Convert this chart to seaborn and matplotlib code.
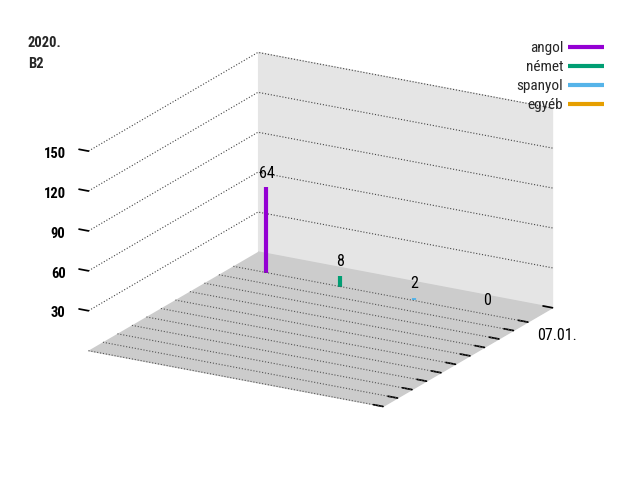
import matplotlib
matplotlib.use('Agg')
import matplotlib.pyplot as plt
import seaborn as sns
import numpy as np

categories = ['angol', 'német', 'spanyol', 'egyéb']
values = [64, 8, 2, 0]
colors = ['#9400D3', '#009E73', '#56B4E9', '#E69F00']
date_ticks = [0, 1, 2, 3, 4, 5, 6, 7, 8, 9, 10, 11.7]
date_labels = ['', '', '', '', '', '', '', '', '', '', '07.01.', '']
bar_date = 10
z_ticks = [30, 60, 90, 120, 150]
z_labels = ['30', '60', '90', '120', '150']
title_text = '2020.\nB2'

sns.set_theme(style='ticks')
plt.rcParams['font.family'] = ['Roboto Condensed', 'DejaVu Sans']
plt.rcParams['font.stretch'] = 'condensed'
plt.rcParams['grid.linestyle'] = ':'
plt.rcParams['grid.color'] = '#444444'
plt.rcParams['grid.linewidth'] = 0.8
plt.rcParams['xtick.color'] = 'black'
plt.rcParams['ytick.color'] = 'black'

fig = plt.figure(figsize=(6.4, 4.8), dpi=100)
ax = fig.add_axes([-0.0094, 0.0085, 1, 1], projection='3d', proj_type='ortho')
ax.view_init(elev=19.4, azim=-60.3)
ax.set_box_aspect((1, 1.009, 0.624), zoom=1.064)
ax.set_xlim(-0.45, 3.55)
ax.set_ylim(0, 11.7)
ax.set_zlim(0, 150)

xs = np.arange(len(categories))
label_pad = 10.6
for x, v, c, name in zip(xs, values, colors, categories):
    ax.plot([x, x], [bar_date, bar_date], [0, v], color=c, lw=3.0,
            solid_capstyle='butt', label=name)
    ax.text(x, bar_date, v + label_pad, str(v), ha='center', va='center',
            fontsize=11.5, color='black')

xlim = ax.get_xlim()
for t in date_ticks[:-1]:
    ax.plot(xlim, [t, t], [0, 0], linestyle=':', color='#555555', lw=0.8)

ax.set_xticks([])
ax.set_yticks(date_ticks)
ax.set_yticklabels(date_labels, fontsize=11.5)
ax.set_zticks(z_ticks)
ax.set_zticklabels(z_labels, fontsize=10.5, fontweight='bold', ha='right', va='top')
ax.zaxis.set_ticks_position('lower')
ax.yaxis.set_tick_params(pad=10)
ax.zaxis.set_tick_params(pad=6)
for a in (ax.xaxis, ax.yaxis, ax.zaxis):
    a.label.set_visible(False)
    a.offsetText.set_visible(False)
for lab, txt in zip(ax.get_yticklabels(), date_labels):
    if not txt:
        lab.set_visible(False)
for t in (ax.title, ax._left_title, ax._right_title):
    t.set_visible(False)

# gnuplot-like ticks: z ticks along x, labels shifted only along tick direction
ax.zaxis._get_tickdir = lambda position: 0
ax.zaxis._axmask = lambda: [True, False, False]
ax.yaxis._axmask = lambda: [True, False, False]

ax.grid(True)
ax.yaxis._axinfo['grid']['color'] = (0, 0, 0, 0)
ax.xaxis.set_pane_color((1, 1, 1, 0))
ax.yaxis.set_pane_color('#e5e5e5')
ax.zaxis.set_pane_color('#cccccc')
for a in (ax.xaxis, ax.yaxis, ax.zaxis):
    a.line.set_color((0, 0, 0, 0))
    a._axinfo['tick']['inward_factor'] = 0.0
    a._axinfo['tick']['outward_factor'] = 0.4

fig.legend(loc='upper right', bbox_to_anchor=(0.965, 0.943), markerfirst=False,
           frameon=False, handlelength=2.35, fontsize=11, labelspacing=0.33,
           handletextpad=0.3)
fig.text(28 / 640, 1 - 36 / 480, title_text, fontweight='bold', va='top',
         ha='left', fontsize=10.5, linespacing=1.65)

fig.savefig('out.png', dpi=100)
